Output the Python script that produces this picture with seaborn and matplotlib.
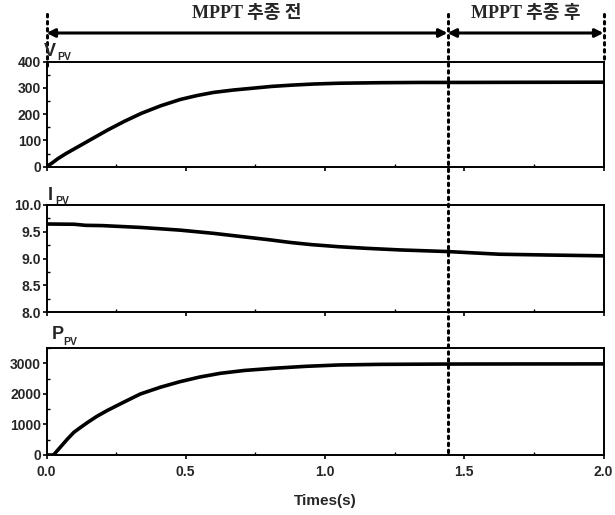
import matplotlib
matplotlib.use('Agg')
import pandas as pd
import seaborn as sns
from matplotlib import pyplot as plt
from matplotlib import transforms
from matplotlib.ticker import MultipleLocator

# PV voltage V_PV (V)
v_time = [0.0, 0.02, 0.04, 0.07, 0.1, 0.13, 0.16, 0.19, 0.22, 0.28, 0.34, 0.41, 0.48, 0.54,
          0.6, 0.67, 0.74, 0.81, 0.885, 0.96, 1.05, 1.2, 1.35, 1.5, 1.7, 2.0]
v_values = [0, 14, 30, 50, 68, 86, 104, 122, 140, 173, 203, 232, 256, 271,
            283, 292, 299, 306, 311, 315, 318, 320, 321, 321, 321.5, 322]

# PV current I_PV (A)
i_time = [0.0, 0.1, 0.14, 0.2, 0.34, 0.48, 0.6, 0.7, 0.8, 0.875, 0.95, 1.05, 1.15, 1.27,
          1.44, 1.625, 1.8, 2.0]
i_values = [9.645, 9.64, 9.62, 9.615, 9.58, 9.53, 9.47, 9.41, 9.35, 9.30, 9.26, 9.22, 9.19, 9.16,
            9.13, 9.08, 9.065, 9.05]

# PV power P_PV (W)
p_time = [0.0, 0.025, 0.05, 0.075, 0.098, 0.125, 0.15, 0.18, 0.217, 0.28, 0.337, 0.41, 0.48,
          0.55, 0.624, 0.71, 0.814, 0.93, 1.05, 1.2, 1.44, 1.7, 2.0]
p_values = [0, 0, 260, 520, 740, 920, 1080, 1260, 1450, 1740, 1996, 2220, 2400,
            2550, 2672, 2765, 2836, 2900, 2945, 2965, 2975, 2978, 2980]

mppt_start = 1.44
phase_labels = ['MPPT 추종 전', 'MPPT 추종 후']
x_label = 'Times(s)'

sns.set_theme(style='white')
plt.rcParams['font.family'] = ['Liberation Sans', 'DejaVu Sans']
plt.rcParams['font.weight'] = 'bold'

W, H = 615, 515
def fx(x):
	return x / W
def fy(y):
	return 1 - y / H

fig = plt.figure(figsize=(6.15, 5.15), dpi=100)
left, width = fx(46.5), (603.5 - 46.5) / W
ax_v = fig.add_axes([left, fy(166.7), width, (166.7 - 61.7) / H])
ax_i = fig.add_axes([left, fy(312), width, (312 - 205) / H])
ax_p = fig.add_axes([left, fy(455), width, (455 - 348) / H])

panels = [
	(ax_v, v_time, v_values, (0, 400), 100, 50),
	(ax_i, i_time, i_values, (8.0, 10.0), 0.5, 0.25),
	(ax_p, p_time, p_values, (0, 3500), 1000, 500),
]
for ax, t, vals, ylim, major, minor in panels:
	df = pd.DataFrame({'t': t, 'val': vals})
	sns.lineplot(data=df, x='t', y='val', ax=ax, color='black', linewidth=2.6)
	ax.set_xlim(0, 2.0)
	ax.set_ylim(*ylim)
	ax.yaxis.set_major_locator(MultipleLocator(major))
	ax.yaxis.set_minor_locator(MultipleLocator(minor))
	ax.xaxis.set_major_locator(MultipleLocator(0.5))
	ax.xaxis.set_minor_locator(MultipleLocator(0.25))
	ax.set_xlabel('')
	ax.set_ylabel('')
	for s in ax.spines.values():
		s.set_color('black')
		s.set_linewidth(1.4)
	ax.tick_params(which='major', direction='out', length=3, width=1.2, color='black',
	               labelsize=10, pad=1, left=True, bottom=True)
	ax.tick_params(which='minor', direction='in', length=2.5, width=1, color='black',
	               left=True, bottom=True)
	for lab in ax.get_yticklabels():
		lab.set_fontweight('bold')

ax_i.yaxis.set_major_formatter(matplotlib.ticker.FormatStrFormatter('%.1f'))
for ax in (ax_v, ax_i):
	ax.tick_params(labelbottom=False)
ax_p.tick_params(axis='x', which='major', pad=4)
ax_p.xaxis.set_major_formatter(matplotlib.ticker.FormatStrFormatter('%.1f'))
for lab in ax_p.get_xticklabels():
	lab.set_fontweight('bold')
ax_p.set_xlabel(x_label, fontsize=11, fontweight='bold', labelpad=11)

# panel labels with small subscripts
for name, (x, y), (sx, sy) in [('V', (44, 56), (57, 60)),
                              ('I', (48, 200), (55, 204)),
                              ('P', (52, 339), (63, 345))]:
	fig.text(fx(x), fy(y), name, fontsize=13, fontweight='bold', ha='left', va='baseline')
	fig.text(fx(sx), fy(sy), 'PV', fontsize=7.5, fontweight='bold', ha='left', va='baseline')

# dotted boundary lines across panels
blend = transforms.blended_transform_factory(ax_v.transData, fig.transFigure)
dot_style = dict(color='black', linewidth=2.2, linestyle=(0, (0.8, 1.5)),
                 dash_capstyle='round', transform=blend, clip_on=False)
fig.add_artist(matplotlib.lines.Line2D([mppt_start, mppt_start], [fy(14), fy(455)], **dot_style))
fig.add_artist(matplotlib.lines.Line2D([0.0, 0.0], [fy(14), fy(68)], **dot_style))
fig.add_artist(matplotlib.lines.Line2D([2.0, 2.0], [fy(14), fy(62)], **dot_style))

# phase arrows and labels
arrow_y = fy(33)
for x0, x1, label in [(0.0, mppt_start, phase_labels[0]), (mppt_start, 2.0, phase_labels[1])]:
	ax_v.annotate('', xy=(x1, arrow_y), xytext=(x0, arrow_y), xycoords=blend, textcoords=blend,
	              arrowprops=dict(arrowstyle='<|-|>', color='black', lw=2.2,
	                              mutation_scale=12, shrinkA=0, shrinkB=0))
	ax_v.text((x0 + x1) / 2, fy(14), label, transform=blend,
	          ha='center', va='center', fontsize=13, fontweight='bold',
	          family=['Liberation Serif', 'Noto Sans CJK KR'])

fig.savefig('out.png', dpi=100, facecolor='white')
